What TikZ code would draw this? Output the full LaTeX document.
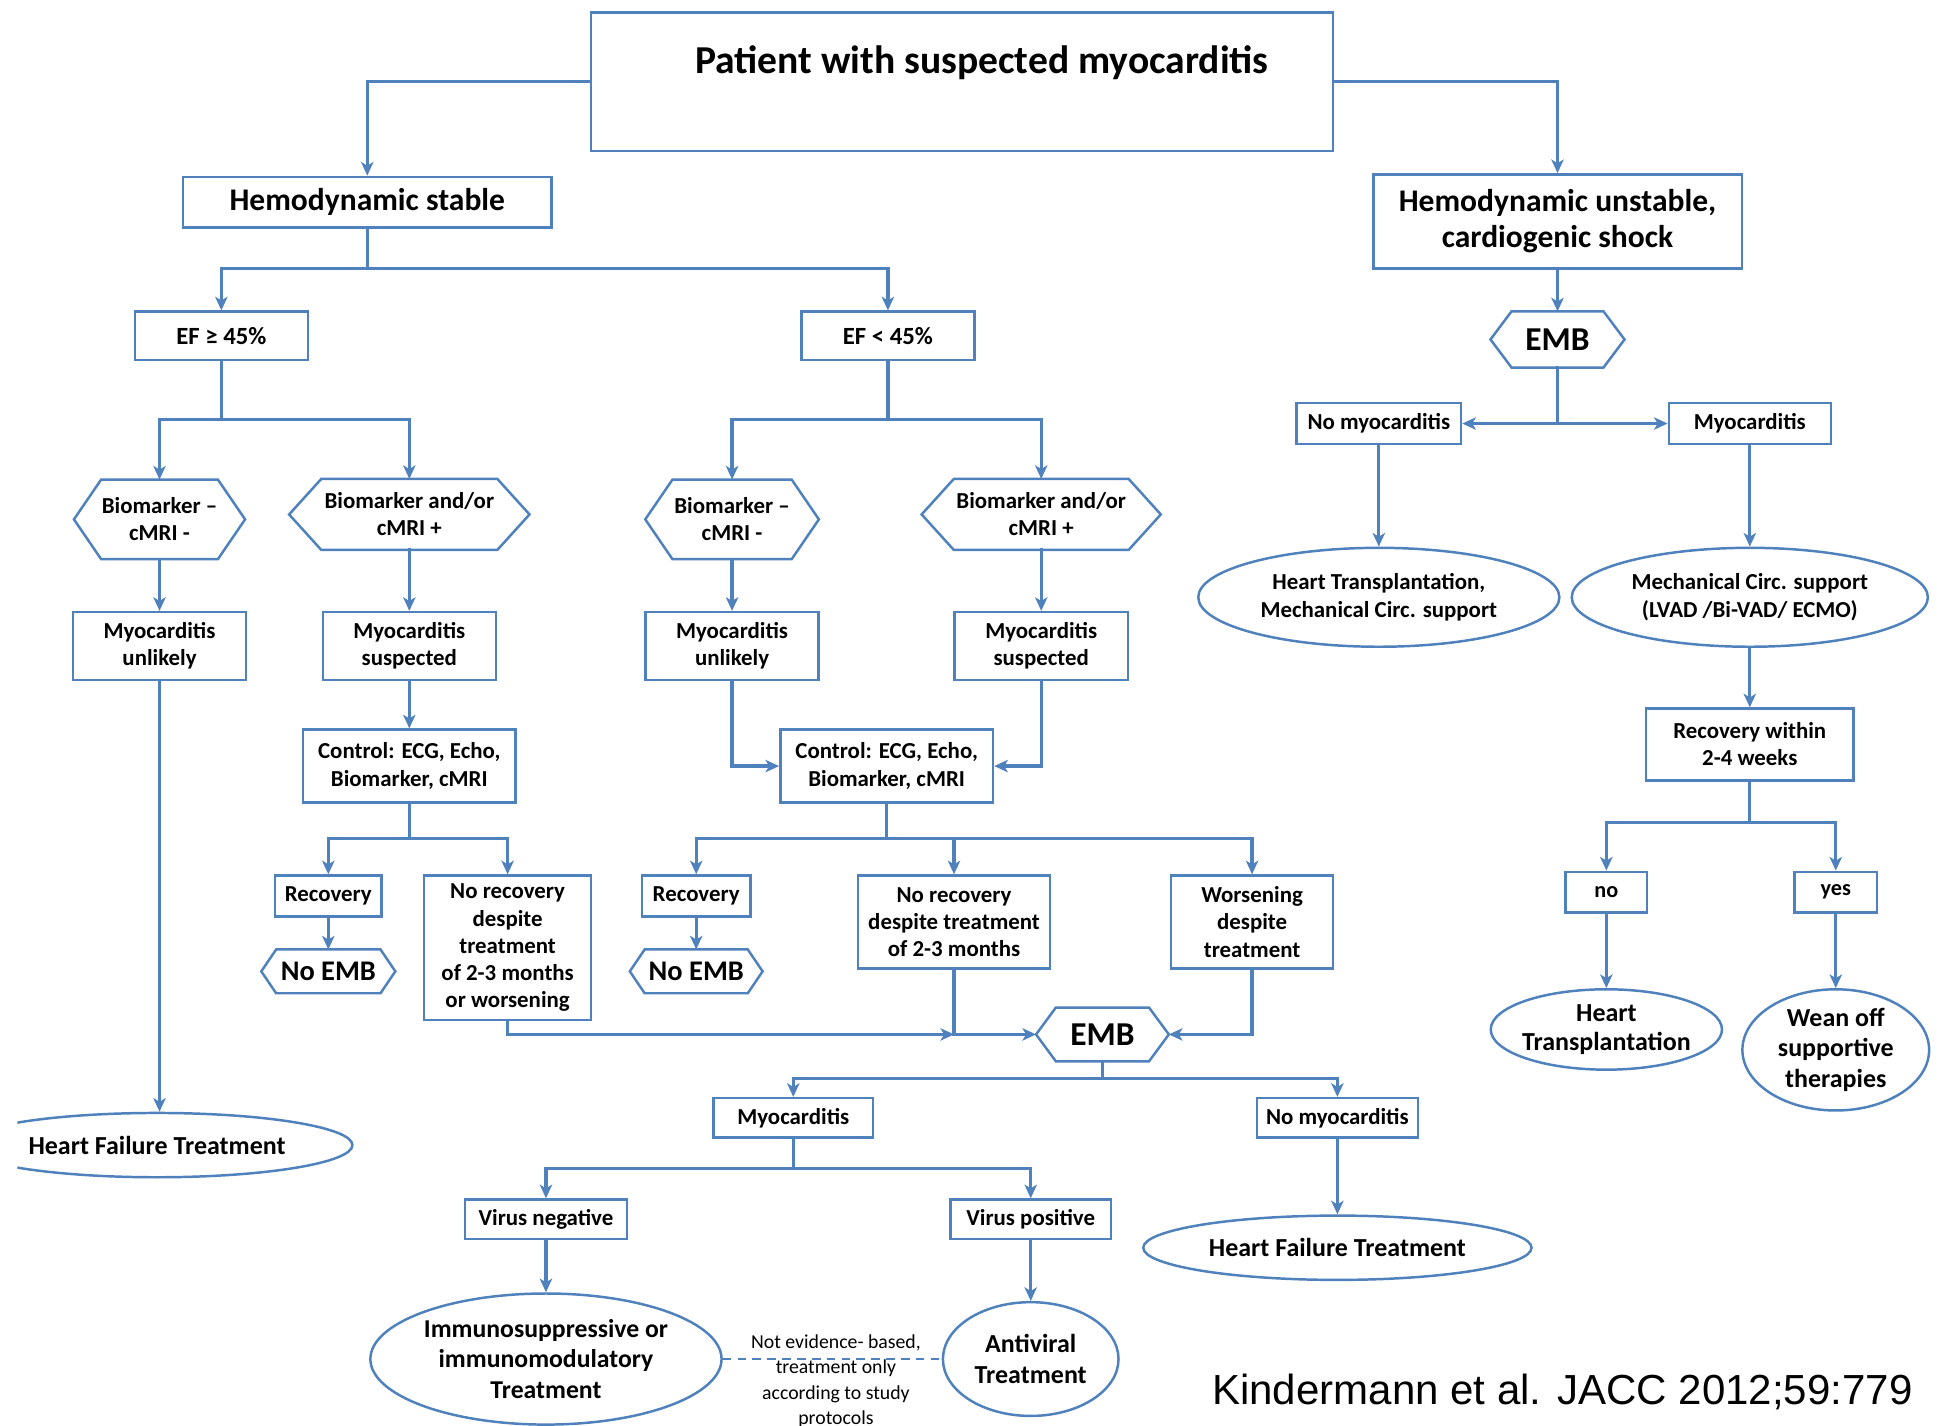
\documentclass[tikz,border=0pt]{standalone}
\usepackage{fontspec}
\setmainfont{Carlito}
\newfontfamily\citefont{Liberation Sans}
\usetikzlibrary{arrows.meta,shapes.geometric}
\definecolor{lb}{RGB}{79,129,189}
\newcommand\fsz[2]{\fontsize{#1}{#2}\selectfont\bfseries}
\tikzset{
  conn/.style={draw=lb, line width=2.6pt, line cap=rect},
  arr/.style={conn, -{Stealth[length=11pt,width=10pt,inset=3pt]}},
  rbox/.style={draw=lb, line width=2pt, fill=white, align=center, inner sep=0pt, rectangle},
  hexbase/.style={align=center, inner sep=0pt, rectangle},
  hexline/.style={draw=lb, line width=2pt, line join=miter},
  ell/.style={ellipse, draw=lb, line width=2pt, inner sep=0pt},
  lbl/.style={align=center, inner sep=0pt},
  sm/.style={font=\fsz{18.5}{22}},
}
% name, position, width, height, inset, font, text
\newcommand\hexn[7]{%
  \node[hexbase, minimum width=#3, minimum height=#4, font=#6] (#1) at (#2) {#7};
  \draw[hexline] (#1.west) -- ([xshift=#5]#1.north west) -- ([xshift=-#5]#1.north east)
     -- (#1.east) -- ([xshift=-#5]#1.south east) -- ([xshift=#5]#1.south west) -- cycle;}
\begin{document}
\begin{tikzpicture}[x=1pt,y=-1pt]
\useasboundingbox (0,0) rectangle (1568,1153);
\fill[white] (0,0) rectangle (1568,1153);

% ---------- top ----------
\node[rbox, minimum width=600, minimum height=112] (top) at (778,66) {};
\node[font=\fsz{32}{36}] (toptxt) at (794,51) {Patient with suspected myocarditis};
\node[rbox, minimum width=298, minimum height=41, font=\fsz{25.5}{29}] (hs) at (297,163.5) {Hemodynamic stable};
\node[rbox, minimum width=298, minimum height=76, font=\fsz{25.5}{29}] (hu) at (1259.5,179) {Hemodynamic unstable,\\cardiogenic shock};
\node[rbox, minimum width=140, minimum height=39, font=\fsz{20}{24}] (ef1) at (179,271.5) {EF ≥ 45\%};
\node[rbox, minimum width=140, minimum height=39, font=\fsz{20}{24}] (ef2) at (718,271.5) {EF < 45\%};

% ---------- hexagons ----------
\hexn{bm1}{129,420}{138}{64}{22}{\fsz{18.5}{22}}{Biomarker –\\cMRI -}
\hexn{bp1}{331,416}{194}{57}{26}{\fsz{18.5}{22}}{Biomarker and/or\\cMRI +}
\hexn{bm2}{592,420}{140}{64}{22}{\fsz{18.5}{22}}{Biomarker –\\cMRI -}
\hexn{bp2}{842,416}{193}{57}{26}{\fsz{18.5}{22}}{Biomarker and/or\\cMRI +}

% ---------- myocarditis boxes ----------
\node[rbox, sm, minimum width=140, minimum height=55] (mu1) at (129,522.5) {Myocarditis\\unlikely};
\node[rbox, sm, minimum width=140, minimum height=55] (ms1) at (331,522.5) {Myocarditis\\suspected};
\node[rbox, sm, minimum width=140, minimum height=55] (mu2) at (592,522.5) {Myocarditis\\unlikely};
\node[rbox, sm, minimum width=140, minimum height=55] (ms2) at (842,522.5) {Myocarditis\\suspected};

\node[rbox, sm, minimum width=172, minimum height=59] (ctrl1) at (331,619.5) {Control: ECG, Echo,\\Biomarker, cMRI};
\node[rbox, sm, minimum width=172, minimum height=59] (ctrl2) at (717,619.5) {Control: ECG, Echo,\\Biomarker, cMRI};

\node[rbox, sm, minimum width=86, minimum height=33] (rec1) at (265.5,724.5) {Recovery};
\node[rbox, sm, minimum width=135, minimum height=117] (norec1) at (410.5,766.5) {No recovery\\despite\\treatment\\of 2-3 months\\or worsening};
\hexn{noemb1}{265.5,785.5}{108}{35}{12}{\fsz{23}{27}}{No EMB}

\node[rbox, sm, minimum width=88, minimum height=33] (rec2) at (563,724.5) {Recovery};
\node[rbox, sm, minimum width=155, minimum height=75] (norec2) at (771.5,745.5) {No recovery\\despite treatment\\of 2-3 months};
\node[rbox, sm, minimum width=131, minimum height=75] (wors) at (1012.5,745.5) {Worsening\\despite\\treatment};
\hexn{noemb2}{563,785.5}{107}{35}{12}{\fsz{23}{27}}{No EMB}

\hexn{emb2}{891.5,836.5}{107}{43}{16}{\fsz{27}{31}}{EMB}

\node[rbox, sm, minimum width=129, minimum height=32] (myo3) at (641.5,904) {Myocarditis};
\node[rbox, sm, minimum width=130, minimum height=32] (nomyo3) at (1081.5,904) {No myocarditis};
\node[rbox, sm, minimum width=131, minimum height=32] (virneg) at (441.5,986) {Virus negative};
\node[rbox, sm, minimum width=130, minimum height=32] (virpos) at (833.5,986) {Virus positive};

% ---------- ellipses ----------
\begin{scope}
\clip (14,850) rectangle (400,1000);
\node[ell, minimum width=316, minimum height=52, label={[lbl, font=\fsz{21}{24}]center:Heart Failure Treatment}] (hf1) at (127,926) {};
\end{scope}
\node[ell, minimum width=284, minimum height=106, label={[lbl, font=\fsz{20.8}{24.5}]center:Immunosuppressive or\\immunomodulatory\\Treatment}] (immuno) at (441.5,1099) {};
\node[ell, minimum width=142, minimum height=92, label={[lbl, font=\fsz{21}{24.5}]center:Antiviral\\Treatment}] (anti) at (833.5,1099) {};
\node[ell, minimum width=314, minimum height=52, label={[lbl, font=\fsz{21}{24}]center:Heart Failure Treatment}] (hf2) at (1081.5,1009) {};

% ---------- right branch ----------
\hexn{emb1}{1259.5,274.5}{108}{45}{17}{\fsz{27}{31}}{EMB}
\node[rbox, sm, minimum width=133, minimum height=33] (nomyo1) at (1115,342.5) {No myocarditis};
\node[rbox, sm, minimum width=131, minimum height=33] (myo1) at (1415,342.5) {Myocarditis};
\node[ell, minimum width=292, minimum height=80, label={[lbl, font=\fsz{18.5}{22}]center:Heart Transplantation,\\Mechanical Circ. support}] (htmcs) at (1115,483) {};
\node[ell, minimum width=288, minimum height=80, label={[lbl, font=\fsz{18.5}{22}]center:Mechanical Circ. support\\(LVAD /Bi-VAD/ ECMO)}] (mcs) at (1415,483) {};
\node[rbox, sm, minimum width=168, minimum height=58] (rec24) at (1415,602) {Recovery within\\2-4 weeks};
\node[rbox, minimum width=66, minimum height=33, font=\fsz{18}{20}] (no) at (1299,721.5) {no};
\node[rbox, minimum width=67, minimum height=33, font=\fsz{18}{20}] (yes) at (1484.5,721.5) {yes};
\node[ell, minimum width=187, minimum height=65, label={[lbl, font=\fsz{21}{24}]center:Heart\\Transplantation}] (ht) at (1299,832.5) {};
\node[ell, minimum width=151, minimum height=98, label={[lbl, font=\fsz{21}{24.5}]center:Wean off\\supportive\\therapies}] (wean) at (1484.5,849) {};

% ---------- connectors ----------
\draw[arr] (top.west) -| (hs.north);
\draw[arr] (top.east) -| (hu.north);
\coordinate (j1) at (297,217);
\draw[conn] (hs.south) -- (j1);
\draw[arr] (j1) -| (ef1.north);
\draw[arr] (j1) -| (ef2.north);
\coordinate (j2) at (179,339);
\draw[conn] (ef1.south) -- (j2);
\draw[arr] (j2) -| (bm1.north);
\draw[arr] (j2) -| (bp1.north);
\coordinate (j3) at (718,339);
\draw[conn] (ef2.south) -- (j3);
\draw[arr] (j3) -| (bm2.north);
\draw[arr] (j3) -| (bp2.north);
\draw[arr] (bm1.south) -- (mu1.north);
\draw[arr] (bp1.south) -- (ms1.north);
\draw[arr] (bm2.south) -- (mu2.north);
\draw[arr] (bp2.south) -- (ms2.north);
\draw[arr] (mu1.south) -- (mu1.south |- hf1.north);
\draw[arr] (ms1.south) -- (ctrl1.north);
\coordinate (j4) at (331,678);
\draw[conn] (ctrl1.south) -- (j4);
\draw[arr] (j4) -| (rec1.north);
\draw[arr] (j4) -| (norec1.north);
\draw[arr] (rec1.south) -- (noemb1.north);
\draw[arr] (mu2.south) |- (ctrl2.west);
\draw[arr] (ms2.south) |- (ctrl2.east);
\coordinate (j5) at (717,678);
\draw[conn] (ctrl2.south) -- (j5);
\draw[arr] (j5) -| (rec2.north);
\draw[arr] (j5) -| (norec2.north);
\draw[arr] (j5) -| (wors.north);
\draw[arr] (rec2.south) -- (noemb2.north);
\coordinate (j6) at (771.5,836.5);
\draw[arr] (norec1.south) |- (j6);
\draw[conn] (norec2.south) -- (j6);
\draw[arr] (j6) -- (emb2.west);
\draw[arr] (wors.south) |- (emb2.east);
\coordinate (j7) at (891.5,872);
\draw[conn] (emb2.south) -- (j7);
\draw[arr] (j7) -| (myo3.north);
\draw[arr] (j7) -| (nomyo3.north);
\coordinate (j8) at (641.5,945);
\draw[conn] (myo3.south) -- (j8);
\draw[arr] (j8) -| (virneg.north);
\draw[arr] (j8) -| (virpos.north);
\draw[arr] (virneg.south) -- (immuno.north);
\draw[arr] (virpos.south) -- (anti.north);
\draw[arr] (nomyo3.south) -- (hf2.north);
\draw[draw=lb, line width=1.8pt, dash pattern=on 7pt off 5pt] (immuno.east) -- (anti.west);
\node[align=center, inner sep=0pt, font=\fontsize{16}{20.5}\selectfont] (note) at (676,1117) {Not evidence- based,\\treatment only\\according to study\\protocols};

\draw[arr] (hu.south) -- (emb1.north);
\coordinate (j9) at (1259.5,342.5);
\draw[conn] (emb1.south) -- (j9);
\draw[arr] (j9) -- (nomyo1.east);
\draw[arr] (j9) -- (myo1.west);
\draw[arr] (nomyo1.south) -- (htmcs.north);
\draw[arr] (myo1.south) -- (mcs.north);
\draw[arr] (mcs.south) -- (rec24.north);
\coordinate (j10) at (1415,665);
\draw[conn] (rec24.south) -- (j10);
\draw[arr] (j10) -| (no.north);
\draw[arr] (j10) -| (yes.north);
\draw[arr] (no.south) -- (ht.north);
\draw[arr] (yes.south) -- (wean.north);

\node[anchor=west, inner sep=0pt, font=\citefont\fontsize{34}{40}\selectfont] (cite) at (980,1126) {Kindermann et al. JACC 2012;59:779};
\end{tikzpicture}
\end{document}
